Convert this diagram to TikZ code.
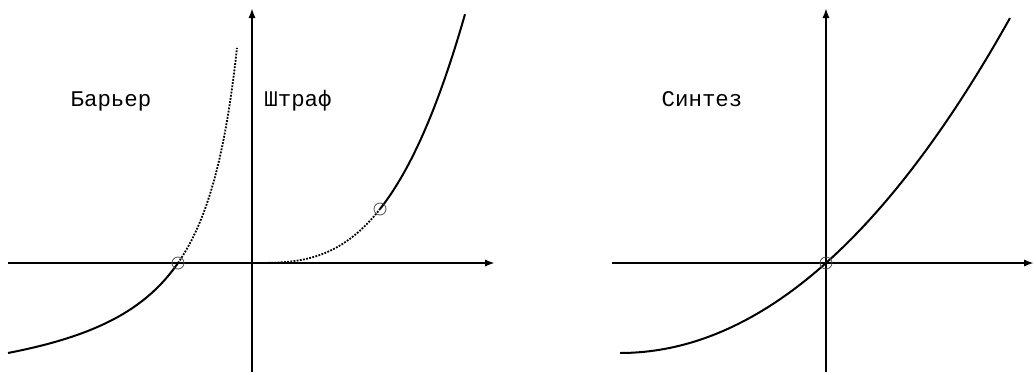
\documentclass[tikz,border=0pt]{standalone}
\usepackage{fontspec}
\setmonofont{Liberation Mono}
\usetikzlibrary{arrows.meta}
\begin{document}
\begin{tikzpicture}[x=0.5pt,y=0.5pt,
  axis/.style={line width=1pt,-{Latex[length=5pt,width=3.6pt]}},
  curve/.style={line width=1pt},
  dotcurve/.style={line width=0.9pt,dash pattern=on 0.9pt off 0.7pt},
  hitpoint/.style={circle,draw=black!70,line width=0.4pt,minimum size=6pt,inner sep=0pt},
  lbl/.style={font=\ttfamily\fontsize{11.2}{13}\selectfont,anchor=base}]
\useasboundingbox (0,0) rectangle (1034,372);
% left picture: barrier and penalty
\coordinate (o1) at (252,109);
\coordinate (xl1) at (8,109);
\coordinate (xr1) at (495,109);
\coordinate (yb1) at (252,0);
\coordinate (yt1) at (252,364);
\draw[axis] (xl1) -- (xr1);
\draw[axis] (yb1) -- (yt1);
\begin{scope}[shift={(o1)}]
\draw[curve] plot[domain=-244:-74,samples=60] (\x,{13886/(23.9-\x)-141.8});
\draw[dotcurve] plot[domain=-74:-15,samples=60] (\x,{13886/(23.9-\x)-141.8});
\draw[dotcurve] plot[domain=0:128,samples=50] (\x,{54*(\x/128)^3});
\draw[curve] plot[domain=128:213,samples=50] (\x,{54*(\x/128)^3});
\node[hitpoint] (bar) at (-74,0) {};
\node[hitpoint] (pen) at (128,54) {};
\end{scope}
\node[lbl] (tbar) at (111,266) {Барьер};
\node[lbl] (tpen) at (298,266) {Штраф};
% right picture: synthesis
\coordinate (o2) at (826,109);
\coordinate (xl2) at (612,109);
\coordinate (xr2) at (1034,109);
\coordinate (yb2) at (826,0);
\coordinate (yt2) at (826,364);
\draw[axis] (xl2) -- (xr2);
\draw[axis] (yb2) -- (yt2);
\begin{scope}[shift={(o2)}]
\draw[curve] plot[domain=-2.06:1.84,samples=80] ({100*\x},{89.26*\x+23.036*\x*\x+0.4434*\x*\x*\x});
\node[hitpoint] (syn) at (0,0) {};
\end{scope}
\node[lbl] (tsyn) at (702,266) {Синтез};
\end{tikzpicture}
\end{document}
